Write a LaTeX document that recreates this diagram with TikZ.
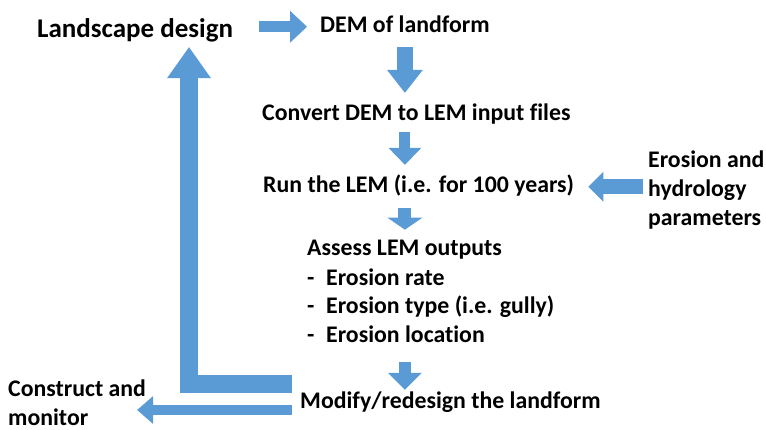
\documentclass[tikz,border=0pt]{standalone}
\definecolor{flowblue}{RGB}{91, 155, 213}
\usepackage{fontspec}
\setmainfont{Carlito}[Ligatures=NoCommon]
\usepackage{tikz}
\usetikzlibrary{arrows.meta, calc}
\newcommand{\listdash}{\makebox[19pt][l]{-}}

\begin{document}
\begin{tikzpicture}[x=1pt, y=-1pt,
  flow text/.style={font=\bfseries\fontsize{23.8}{29}\selectfont, inner sep=0pt, anchor=base west},
  one line/.style={text height=18pt, text depth=5.5pt},
  big text/.style={font=\bfseries\fontsize{27}{32}\selectfont, inner sep=0pt, anchor=base west, text height=20pt, text depth=6pt},
  flow arrow/.style n args={3}{draw=flowblue, line width=#1, line join=miter,
    -{Triangle[width=#2, length=#3, line width=0pt, fill=flowblue]}}]
  \useasboundingbox (0,0) rectangle (766,430);

  % Steps (multi-line nodes sit on their last baseline)
  \node[big text] (land) at (37,38) {Landscape design};
  \node[flow text, one line] (dem) at (320,33) {DEM of landform};
  \node[flow text, one line] (convert) at (262,121) {Convert DEM to LEM input files};
  \node[flow text, one line] (run) at (263,193) {Run the LEM (i.e. for 100 years)};
  \node[flow text, align=left] (params) at (648,226) {Erosion and\\hydrology\\parameters};
  \node[flow text, align=left] (assess) at (307,343) {Assess LEM outputs\\
    \listdash Erosion rate\\
    \listdash Erosion type (i.e. gully)\\
    \listdash Erosion location};
  \node[flow text, one line] (modify) at (300,408) {Modify/redesign the landform};
  \node[flow text, align=left] (construct) at (8,425) {Construct and\\monitor};

  % Main chain
  \draw[flow arrow={11pt}{32pt}{17pt}, shorten <=26pt, shorten >=13pt] (land.east |- dem.west) -- (dem.west);
  \draw[flow arrow={16pt}{36pt}{23pt}, shorten <=8.5pt, shorten >=10pt] (dem.south) -- (dem.south |- convert.north);
  \draw[flow arrow={11pt}{33pt}{17pt}, shorten <=5.5pt, shorten >=10pt] (dem.south |- convert.south) -- (dem.south |- run.north);
  \draw[flow arrow={13pt}{35pt}{12pt}, shorten <=9.5pt, shorten >=10.7pt] (dem.south |- run.south) -- (dem.south |- assess.north);
  \draw[flow arrow={12pt}{34pt}{17pt}, shorten <=19pt, shorten >=0pt] (dem.south |- assess.south) -- (dem.south |- modify.north);

  % Parameters in
  \draw[flow arrow={15pt}{30pt}{15pt}, shorten <=5pt, shorten >=14pt] (params.west |- run.east) -- (run.east);

  % Loop back and exit
  \coordinate (bend) at (189,384);
  \coordinate (exit) at (0,410);
  \draw[flow arrow={18pt}{44pt}{31pt}, shorten <=8pt, shorten >=3pt] (modify.west |- bend) -- (bend) -- (bend |- land.south);
  \draw[flow arrow={10pt}{28pt}{16pt}, shorten <=8pt, shorten >=-9pt] (modify.west |- exit) -- (construct.east |- exit);
\end{tikzpicture}
\end{document}
